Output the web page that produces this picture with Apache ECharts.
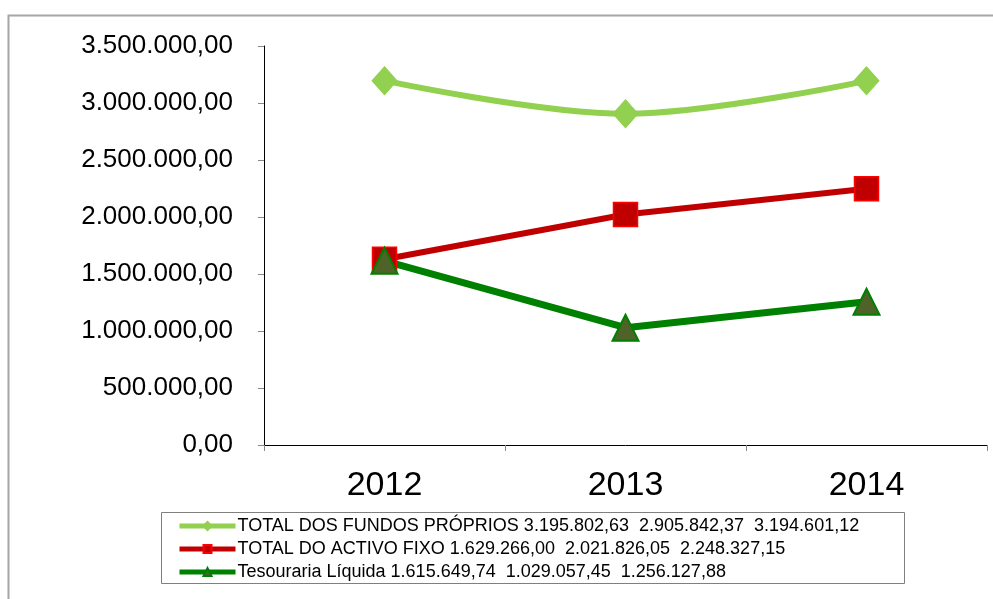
<!DOCTYPE html>
<html>
<head>
<meta charset="utf-8">
<script src="https://cdn.jsdelivr.net/npm/echarts@6/dist/echarts.min.js"></script>
<style>
  html, body { margin: 0; padding: 0; background: #fff; }
  #main { width: 993px; height: 599px; }
</style>
</head>
<body>
<div id="main"></div>
<script>
// dados
var anos = ['2012', '2013', '2014']
var fundosProprios = [3195802.63, 2905842.37, 3194601.12]
var activoFixo = [1629266.00, 2021826.05, 2248327.15]
var tesouraria = [1615649.74, 1029057.45, 1256127.88]

var NARROW = "'Liberation Sans Narrow', 'Arial Narrow', 'Liberation Sans', sans-serif"
var SANS = "'Liberation Sans', Arial, sans-serif"

// formato português: 1.234.567,89
function fmt(v) {
  var parts = v.toFixed(2).split('.')
  var int = parts[0].replace(/\B(?=(\d{3})+(?!\d))/g, '.')
  return int + ',' + parts[1]
}

var nomes = ['TOTAL DOS FUNDOS PRÓPRIOS', 'TOTAL DO ACTIVO FIXO', 'Tesouraria Líquida']
var valores = {}
valores[nomes[0]] = fundosProprios
valores[nomes[1]] = activoFixo
valores[nomes[2]] = tesouraria

var chart = echarts.init(document.getElementById('main'))
chart.setOption({
  animation: false,
  backgroundColor: '#fff',
  grid: { left: 264, right: 6, top: 46, bottom: 154 },
  graphic: [
    // moldura do gráfico
    { type: 'polyline', shape: { points: [[8.5, 700], [8.5, 15.5], [1000, 15.5]] },
      style: { stroke: '#a6a6a6', lineWidth: 2, fill: null }, silent: true },
    // caixa da legenda
    { type: 'rect', shape: { x: 161.5, y: 512.5, width: 743, height: 71 },
      style: { stroke: '#7f7f7f', lineWidth: 1, fill: null }, silent: true }
  ],
  legend: {
    orient: 'vertical',
    left: 172,
    top: 512,
    itemGap: 5,
    itemWidth: 56,
    itemHeight: 10,
    lineStyle: { width: 5 },
    textStyle: { fontFamily: NARROW, fontSize: 18, color: '#000', padding: [0, 0, 0, -3] },
    formatter: function (name) {
      return name + ' ' + valores[name].map(fmt).join('  ')
    },
    data: nomes
  },
  xAxis: {
    type: 'category',
    data: anos,
    boundaryGap: true,
    axisLine: { lineStyle: { color: '#000', width: 1 } },
    axisTick: { show: true, length: 6, lineStyle: { color: '#888' } },
    axisLabel: { fontFamily: NARROW, fontSize: 34, color: '#000', margin: 24 }
  },
  yAxis: {
    type: 'value',
    min: 0,
    max: 3500000,
    interval: 500000,
    axisLine: { show: true, lineStyle: { color: '#000', width: 1 } },
    axisTick: { show: true, length: 6, lineStyle: { color: '#888' } },
    splitLine: { show: false },
    axisLabel: {
      fontFamily: SANS, fontSize: 26, color: '#000', margin: 31,
      formatter: function (v) { return fmt(v) }
    }
  },
  series: [
    {
      name: nomes[0],
      type: 'line',
      smooth: 0.35,
      data: fundosProprios,
      symbol: 'diamond',
      symbolSize: [25, 28],
      lineStyle: { color: '#92d050', width: 6 },
      itemStyle: { color: '#92d050', borderColor: '#92d050', borderWidth: 1 }
    },
    {
      name: nomes[1],
      type: 'line',
      data: activoFixo,
      symbol: 'rect',
      symbolSize: [24, 24],
      lineStyle: { color: '#c00000', width: 6 },
      itemStyle: { color: '#c00000', borderColor: '#ff0000', borderWidth: 1.5 }
    },
    {
      name: nomes[2],
      type: 'line',
      data: tesouraria,
      symbol: 'triangle',
      symbolSize: [26, 26],
      lineStyle: { color: '#008000', width: 7 },
      itemStyle: { color: '#4f6228', borderColor: '#008000', borderWidth: 2 }
    }
  ]
})
</script>
</body>
</html>
